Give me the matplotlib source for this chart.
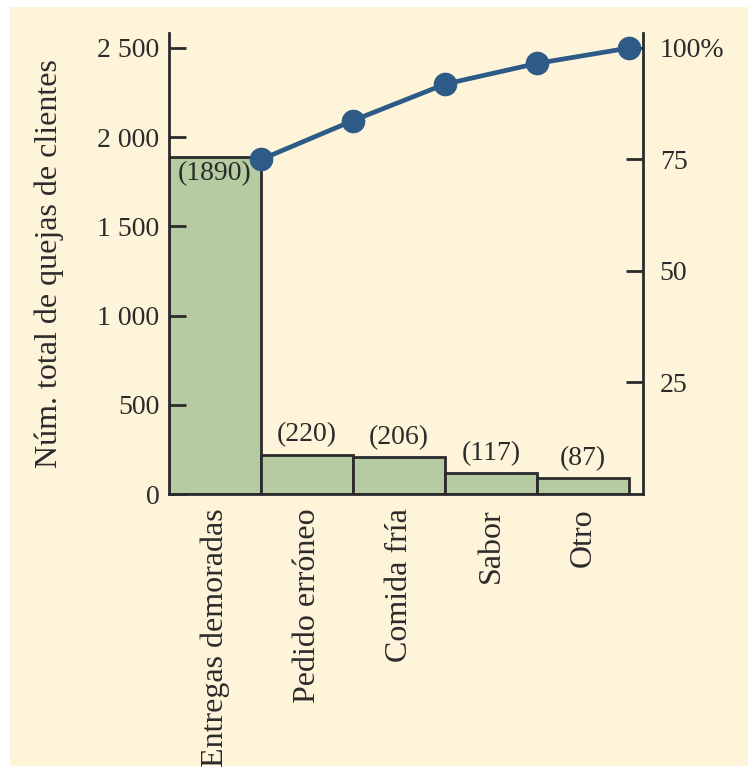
import numpy as np
import matplotlib
matplotlib.use("Agg")
import matplotlib.pyplot as plt
from matplotlib.patches import Rectangle

categorias = ["Entregas demoradas", "Pedido erróneo", "Comida fría", "Sabor", "Otro"]
quejas = [1890, 220, 206, 117, 87]
etiquetas_izq = [0, 500, 1000, 1500, 2000, 2500]
textos_izq = ["0", "500", "1 000", "1 500", "2 000", "2 500"]
etiquetas_der = [25, 50, 75, 100]
textos_der = ["25", "50", "75", "100%"]

CREMA = "#fef4da"
VERDE = "#b5cca2"
AZUL = "#2e5a87"
OSCURO = "#2b2b2b"

plt.rcParams['font.family'] = ['Liberation Serif', 'DejaVu Serif']

fig = plt.figure(figsize=(7.56, 7.73), dpi=100)
fig.patch.set_facecolor("white")
fig.patches.append(Rectangle((10/756, 7/773), 738/756, 759/773, transform=fig.transFigure,
                             facecolor=CREMA, edgecolor="none", zorder=-10))

ax = fig.add_axes([169/756, 1-494/773, 474/756, 461/773])
ax.set_facecolor("none")

total = sum(quejas)
x = np.arange(len(quejas))
ax.bar(x, quejas, width=1, align="edge", color=VERDE, edgecolor=OSCURO, linewidth=2)

# etiquetas de valor: la primera dentro de la barra
for i, v in enumerate(quejas):
    if i == 0:
        ax.text(i + 0.5, v - 25, "(%d)" % v, ha="center", va="top", fontsize=20, color=OSCURO)
    else:
        ax.text(i + 0.5, v + 40, "(%d)" % v, ha="center", va="bottom", fontsize=20, color=OSCURO)

ymax = 2584
ax.set_xlim(0, 5.15)
ax.set_ylim(0, ymax)
ax.set_yticks(etiquetas_izq)
ax.set_yticklabels(textos_izq)
ax.set_xticks(x + 0.5)
ax.set_xticklabels(categorias, rotation=90, va="top", ha="center")
ax.tick_params(axis="x", length=0, pad=10, labelsize=23, colors=OSCURO)
ax.tick_params(axis="y", direction="in", length=12, width=2, pad=7, labelsize=20,
               colors=OSCURO)
ax.set_ylabel("Núm. total de quejas de clientes", fontsize=23, color=OSCURO, labelpad=24)
for s in ["top", "right"]:
    ax.spines[s].set_visible(False)
for s in ["left", "bottom"]:
    ax.spines[s].set_linewidth(2)
    ax.spines[s].set_color(OSCURO)

# eje derecho: 100% a la altura de 2500
ax2 = ax.twinx()
acum = np.cumsum(quejas) / total * 100
ax2.plot(x + 1, acum, color=AZUL, linewidth=3.4, marker="o", markersize=16, clip_on=False)
ax2.set_ylim(0, ymax / 2500 * 100)
ax2.set_yticks(etiquetas_der)
ax2.set_yticklabels(textos_der)
ax2.tick_params(axis="y", direction="in", length=12, width=2, pad=12, labelsize=20,
                colors=OSCURO)
for s in ["top", "left", "bottom"]:
    ax2.spines[s].set_visible(False)
ax2.spines["right"].set_linewidth(2)
ax2.spines["right"].set_color(OSCURO)

fig.savefig("out.png", dpi=100)
